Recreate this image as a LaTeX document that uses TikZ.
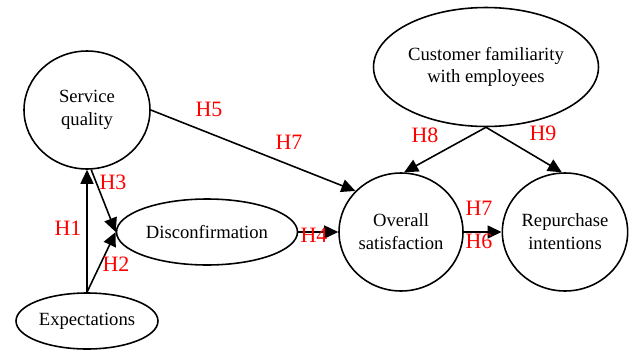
\documentclass[tikz,border=0pt]{standalone}
\usepackage{fontspec}
\setmainfont{Liberation Serif}
\usetikzlibrary{positioning, arrows.meta, shapes.geometric}
\definecolor{hypRed}{HTML}{FF0000}
\tikzset{
  sm/.style={font=\fontsize{10.6}{13}\selectfont, line width=0.9pt, x=0.02cm, y=-0.02cm},
  construct/.style={draw, ellipse, align=center, inner sep=0.5pt},
  arr/.style={-{Triangle[length=2.8mm, width=2.6mm]}},
  hyp/.style={text=hypRed, font=\fontsize{12.5}{14}\selectfont, inner sep=0pt},
}

\begin{document}
\begin{tikzpicture}[
  sm,
]
\useasboundingbox (0,0) rectangle (629,352);

\node[construct, minimum width=2.52cm, minimum height=2.36cm] (sq) at (87,110) {Service\\quality};
\node[construct, minimum width=3.62cm, minimum height=1.32cm] (dis) at (207,232) {Disconfirmation};
\node[construct, minimum width=2.84cm, minimum height=1.12cm] (ex) at (87,321) {Expectations};
\node[construct, minimum width=4.5cm, minimum height=2.38cm] (cf) at (486,67) {Customer familiarity\\with employees};
\node[construct, minimum width=2.48cm, minimum height=2.36cm] (ov) at (401,232) {Overall\\satisfaction};
\node[construct, minimum width=2.46cm, minimum height=2.36cm] (rp) at (565,232) {Repurchase\\intentions};

\draw[arr] (ex.north) -- (sq.south);
\draw[arr] (ex.north) -- (dis.west);
\draw[arr] (sq.-86) -- (dis.west);
\draw[arr] (sq.east) -- (ov.138);
\draw[arr] (dis.east) -- (ov.west);
\draw[arr] (ov.east) -- (rp.west);
\draw[arr] (cf.south) -- (ov.87);
\draw[arr] (cf.south) -- (rp.93);

% hypothesis labels
\node[hyp] (h1) at (68,228) {H1};
\node[hyp] (h2) at (116,264) {H2};
\node[hyp] (h3) at (113,182) {H3};
\node[hyp] (h4) at (314,235) {H4};
\node[hyp] (h5) at (209,109) {H5};
\node[hyp] (h7a) at (289,142) {H7};
\node[hyp] (h7b) at (479,208) {H7};
\node[hyp] (h6) at (479,241) {H6};
\node[hyp] (h8) at (425,135) {H8};
\node[hyp] (h9) at (543,133) {H9};
\end{tikzpicture}
\end{document}
